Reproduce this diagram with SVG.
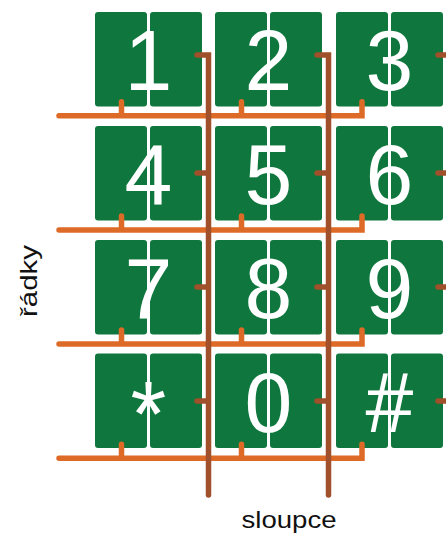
<svg xmlns="http://www.w3.org/2000/svg" width="446" height="533" viewBox="0 0 446 533">
<style>
.half{fill:#0F773E}
.dig{font-family:"Liberation Sans",Arial,sans-serif;font-size:86px;fill:#fff;text-anchor:middle}
.row{fill:none;stroke:#DE6A27;stroke-width:5.5;stroke-linecap:round;stroke-linejoin:miter}
.col{fill:none;stroke:#A0502A;stroke-width:5.5;stroke-linecap:round;stroke-linejoin:miter}
.lbl{font-family:"Liberation Sans",Arial,sans-serif;font-size:24px;fill:#111}
</style>
<rect width="446" height="533" fill="#fff"/>
<g id="key-1"><rect class="half" x="95" y="12" width="52" height="94.5" rx="3"/><rect class="half" x="150" y="12" width="52" height="94.5" rx="3"/><text class="dig" x="148.5" y="90">1</text></g>
<g id="key-2"><rect class="half" x="215" y="12" width="52" height="94.5" rx="3"/><rect class="half" x="270" y="12" width="52" height="94.5" rx="3"/><text class="dig" x="268.5" y="90">2</text></g>
<g id="key-3"><rect class="half" x="336" y="12" width="52" height="94.5" rx="3"/><rect class="half" x="391" y="12" width="52" height="94.5" rx="3"/><text class="dig" x="389.5" y="90">3</text></g>
<g id="key-4"><rect class="half" x="95" y="126" width="52" height="94.5" rx="3"/><rect class="half" x="150" y="126" width="52" height="94.5" rx="3"/><text class="dig" x="148.5" y="204">4</text></g>
<g id="key-5"><rect class="half" x="215" y="126" width="52" height="94.5" rx="3"/><rect class="half" x="270" y="126" width="52" height="94.5" rx="3"/><text class="dig" x="268.5" y="204">5</text></g>
<g id="key-6"><rect class="half" x="336" y="126" width="52" height="94.5" rx="3"/><rect class="half" x="391" y="126" width="52" height="94.5" rx="3"/><text class="dig" x="389.5" y="204">6</text></g>
<g id="key-7"><rect class="half" x="95" y="240" width="52" height="94.5" rx="3"/><rect class="half" x="150" y="240" width="52" height="94.5" rx="3"/><text class="dig" x="148.5" y="318">7</text></g>
<g id="key-8"><rect class="half" x="215" y="240" width="52" height="94.5" rx="3"/><rect class="half" x="270" y="240" width="52" height="94.5" rx="3"/><text class="dig" x="268.5" y="318">8</text></g>
<g id="key-9"><rect class="half" x="336" y="240" width="52" height="94.5" rx="3"/><rect class="half" x="391" y="240" width="52" height="94.5" rx="3"/><text class="dig" x="389.5" y="318">9</text></g>
<g id="key-star"><rect class="half" x="95" y="353.5" width="52" height="94.5" rx="3"/><rect class="half" x="150" y="353.5" width="52" height="94.5" rx="3"/><text class="dig" x="148.5" y="446" style="font-size:92px">*</text></g>
<g id="key-0"><rect class="half" x="215" y="353.5" width="52" height="94.5" rx="3"/><rect class="half" x="270" y="353.5" width="52" height="94.5" rx="3"/><text class="dig" x="268.5" y="432">0</text></g>
<g id="key-hash"><rect class="half" x="336" y="353.5" width="52" height="94.5" rx="3"/><rect class="half" x="391" y="353.5" width="52" height="94.5" rx="3"/><text class="dig" x="389.5" y="432">#</text></g>
<g id="connectors">
<path class="row" d="M59,115.7 H362 V101.7 M121.5,115.7 V101.7 M241.5,115.7 V101.7"/>
<path class="row" d="M59,230 H362 V216 M121.5,230 V216 M241.5,230 V216"/>
<path class="row" d="M59,344 H362 V330 M121.5,344 V330 M241.5,344 V330"/>
<path class="row" d="M59,458.3 H362 V444.3 M121.5,458.3 V444.3 M241.5,458.3 V444.3"/>
<path class="col" d="M197,55 H208.5 V495 M197,173 H208.5 M197,287 H208.5 M197,401 H208.5"/>
<path class="col" d="M317,55 H328.5 V495 M317,173 H328.5 M317,287 H328.5 M317,401 H328.5"/>
<path class="col" d="M438,55 H449 V495 M438,173 H449 M438,287 H449 M438,401 H449"/>
</g>
<text class="lbl" x="289" y="528.3" text-anchor="middle" textLength="95" lengthAdjust="spacingAndGlyphs">sloupce</text>
<text class="lbl" transform="translate(36.5,281) rotate(-90)" text-anchor="middle" textLength="72" lengthAdjust="spacingAndGlyphs">řádky</text>
</svg>
